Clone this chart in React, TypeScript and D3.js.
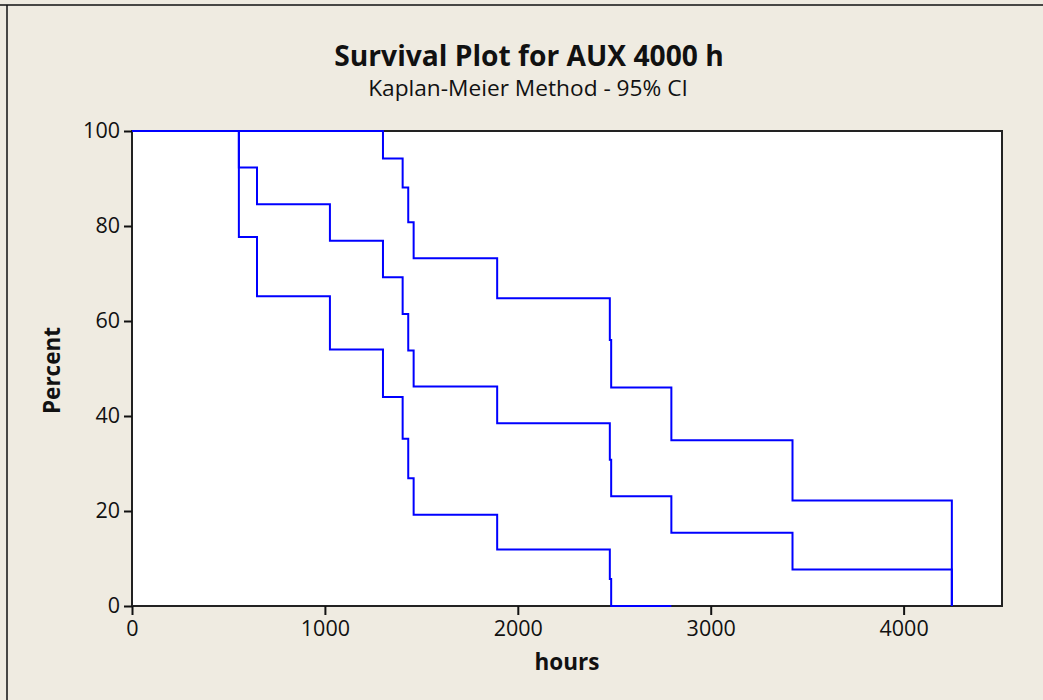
import React, { useEffect, useRef } from "react";
import * as d3 from "d3";

const times = [0, 554, 648, 1026, 1301, 1403, 1432, 1460, 1893, 2477, 2484, 2796, 3424, 4250];
const survival = [100, 92.3, 84.6, 76.9, 69.2, 61.5, 53.8, 46.2, 38.5, 30.8, 23.1, 15.4, 7.7, 0];
const upperCI = [100, 100, 100, 100, 94.2, 88.1, 80.8, 73.2, 64.8, 56.0, 46.0, 34.9, 22.2, 0];
const lowerCI = [100, 77.7, 65.2, 54.0, 44.0, 35.2, 26.9, 19.2, 11.9, 5.7, 0, 0];
const xTicks = [0, 1000, 2000, 3000, 4000];
const yTicks = [0, 20, 40, 60, 80, 100];

const title = "Survival Plot for AUX 4000 h";
const subtitle = "Kaplan-Meier Method - 95% CI";
const xLabel = "hours";
const yLabel = "Percent";

const W = 1043;
const H = 700;
const M = { left: 132, right: 1002, top: 131, bottom: 606 };
const FONT = "'Open Sans', sans-serif";
const BG = "#EFEBE1";

export default function App() {
  const xAxisRef = useRef<SVGGElement>(null);
  const yAxisRef = useRef<SVGGElement>(null);

  const x = d3.scaleLinear().domain([0, 4510]).range([M.left, M.right]);
  const y = d3.scaleLinear().domain([0, 100]).range([M.bottom, M.top]);

  const line = d3
    .line<[number, number]>()
    .x((d) => x(d[0]))
    .y((d) => y(d[1]))
    .curve(d3.curveStepAfter);

  const series = [
    times.map((t, i) => [t, survival[i]] as [number, number]),
    times.map((t, i) => [t, upperCI[i]] as [number, number]),
    lowerCI.map((v, i) => [times[i], v] as [number, number]),
  ];

  useEffect(() => {
    const xa = d3
      .axisBottom(x)
      .tickValues(xTicks)
      .tickSize(9)
      .tickSizeOuter(0)
      .tickPadding(6)
      .tickFormat((d) => String(d));
    const ya = d3
      .axisLeft(y)
      .tickValues(yTicks)
      .tickSize(8)
      .tickSizeOuter(0)
      .tickPadding(4)
      .tickFormat((d) => String(d));
    const gx = d3.select(xAxisRef.current!);
    gx.call(xa as any);
    gx.select(".domain").remove();
    gx.selectAll(".tick line").attr("stroke", "#111").attr("stroke-width", 2);
    gx.selectAll(".tick text")
      .attr("font-family", FONT)
      .attr("font-size", 21.5)
      .attr("fill", "#111");
    const gy = d3.select(yAxisRef.current!);
    gy.call(ya as any);
    gy.select(".domain").remove();
    gy.selectAll(".tick line").attr("stroke", "#111").attr("stroke-width", 2);
    gy.selectAll(".tick text")
      .attr("font-family", FONT)
      .attr("font-size", 21.5)
      .attr("fill", "#111");
  }, []);

  return (
    <svg
      width={W}
      height={H}
      style={{ position: "absolute", left: 0, top: 0, display: "block" }}
    >
      <rect x={0} y={0} width={W} height={H} fill={BG} />
      <line x1={0} x2={W} y1={5} y2={5} stroke="#111" strokeWidth={1.5} />
      <line x1={7} x2={7} y1={5} y2={H} stroke="#111" strokeWidth={1.5} />

      <text
        x={529}
        y={66}
        textAnchor="middle"
        fontFamily={FONT}
        fontWeight="bold"
        fontSize={28.2}
        fill="#111"
      >
        {title}
      </text>
      <text
        x={528}
        y={96}
        textAnchor="middle"
        fontFamily={FONT}
        fontSize={22.7}
        fill="#111"
      >
        {subtitle}
      </text>

      <rect
        x={M.left}
        y={M.top}
        width={M.right - M.left}
        height={M.bottom - M.top}
        fill="#fff"
        stroke="#222"
        strokeWidth={2}
      />

      <g ref={xAxisRef} transform={`translate(0,${M.bottom})`} />
      <g ref={yAxisRef} transform={`translate(${M.left},0)`} />

      {series.map((s, i) => (
        <path
          key={i}
          d={line(s) || ""}
          fill="none"
          stroke="#0000FF"
          strokeWidth={2}
        />
      ))}

      <text
        x={(M.left + M.right) / 2}
        y={670}
        textAnchor="middle"
        fontFamily={FONT}
        fontWeight="bold"
        fontSize={22.5}
        fill="#111"
      >
        {xLabel}
      </text>
      <text
        transform={`translate(60,${(M.top + M.bottom) / 2 + 2}) rotate(-90)`}
        textAnchor="middle"
        fontFamily={FONT}
        fontWeight="bold"
        fontSize={22.5}
        fill="#111"
      >
        {yLabel}
      </text>
    </svg>
  );
}
